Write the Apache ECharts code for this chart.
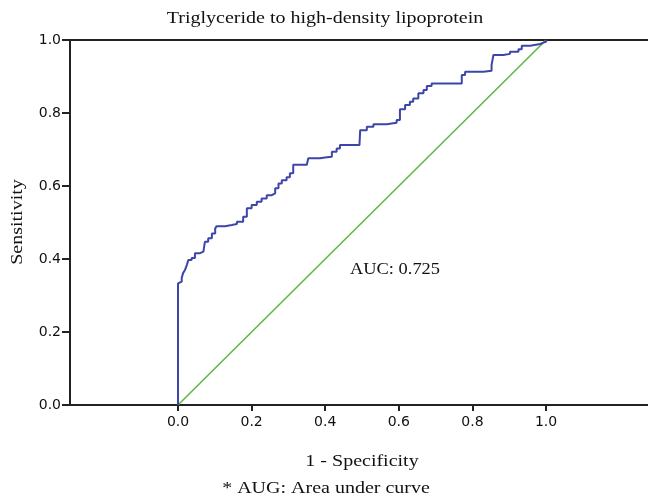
<!DOCTYPE html>
<html><head><meta charset="utf-8">
<script src="https://cdn.jsdelivr.net/npm/echarts@6/dist/echarts.min.js"></script>
<style>html,body{margin:0;padding:0;background:#fff}#c{width:648px;height:499px}</style>
</head><body><div id="c"></div>
<script>
var titleText = 'Triglyceride to high-density lipoprotein';
var xName = '1 - Specificity';
var yName = 'Sensitivity';
var aucText = 'AUC: 0.725';
var footText = '* AUG: Area under curve';
var xTicks = [0, 0.2, 0.4, 0.6, 0.8, 1.0];
var yTicks = [0, 0.2, 0.4, 0.6, 0.8, 1.0];
var rocFpr = [0,0,0.001,0.010,0.014,0.019,0.024,0.028,0.037,0.046,0.060,0.069,0.073,0.082,0.092,0.101,0.105,0.128,0.146,0.160,0.177,0.187,0.200,0.214,0.227,0.241,0.255,0.264,0.273,0.282,0.295,0.304,0.313,0.350,0.354,0.386,0.399,0.418,0.431,0.440,0.493,0.495,0.513,0.531,0.567,0.594,0.603,0.617,0.630,0.639,0.653,0.667,0.676,0.689,0.762,0.771,0.780,0.830,0.852,0.857,0.884,0.902,0.925,0.934,0.957,0.984,0.993,1];
var rocTpr = [0,0.333,0.338,0.348,0.362,0.370,0.384,0.397,0.403,0.416,0.420,0.425,0.447,0.457,0.470,0.484,0.490,0.493,0.496,0.502,0.516,0.539,0.548,0.557,0.566,0.575,0.580,0.594,0.607,0.616,0.624,0.635,0.658,0.660,0.676,0.678,0.680,0.694,0.703,0.712,0.717,0.753,0.762,0.769,0.773,0.781,0.810,0.822,0.831,0.840,0.854,0.863,0.874,0.881,0.881,0.904,0.913,0.916,0.932,0.959,0.962,0.968,0.975,0.984,0.989,0.993,0.995,1];
var refX = [0, 1];
var refY = [0, 1];

var rocData = rocFpr.map(function(x,i){return [x, rocTpr[i]];});
var refData = refX.map(function(x,i){return [x, refY[i]];});
var serif = '"Liberation Serif","Times New Roman",serif';
var sans = '"DejaVu Sans",Arial,sans-serif';
var SX = 1.25;
function txt(t, x, y, rot, sx){
  return {type:'text', x:x, y:y, rotation:rot||0, scaleX:sx||SX,
    style:{text:t, font:'16px '+serif, fill:'#111', align:'center', verticalAlign:'middle'}};
}
var chart = echarts.init(document.getElementById('c'), null, {renderer:'canvas'});
chart.setOption({
  animation:false,
  backgroundColor:'#fff',
  grid:{left:70,right:0,top:40,bottom:94},
  xAxis:[{
    type:'value',min:-0.2935,max:1.277,
    splitLine:{show:false},
    axisLine:{show:true,onZero:false,lineStyle:{color:'#222',width:2}},
    axisTick:{show:true,customValues:xTicks,length:6,lineStyle:{color:'#222',width:2}},
    axisLabel:{customValues:xTicks,formatter:function(v){return v.toFixed(1);},fontFamily:sans,fontSize:14,color:'#111',margin:10}
  },{
    type:'value',position:'top',min:-0.2935,max:1.277,
    splitLine:{show:false},
    axisLine:{show:true,onZero:false,lineStyle:{color:'#222',width:2}},
    axisTick:{show:false},axisLabel:{show:false}
  }],
  yAxis:{
    type:'value',min:0,max:1,interval:0.2,
    splitLine:{show:false},
    axisLine:{show:true,onZero:false,lineStyle:{color:'#222',width:2}},
    axisTick:{show:true,length:8,lineStyle:{color:'#222',width:2}},
    axisLabel:{formatter:function(v){return v.toFixed(1);},fontFamily:sans,fontSize:14,color:'#111',margin:9}
  },
  series:[
    {type:'line',data:refData,symbol:'none',lineStyle:{color:'#5cba45',width:1.6},z:2},
    {type:'line',data:rocData,symbol:'none',step:'end',lineStyle:{color:'#3d46a8',width:2},z:3}
  ],
  graphic:[
    txt(titleText, 325, 19),
    txt(yName, 18, 222, Math.PI/2),
    txt(xName, 362, 462),
    txt(aucText, 395, 270, 0, 1.15),
    txt(footText, 326, 489)
  ]
});
</script></body></html>
